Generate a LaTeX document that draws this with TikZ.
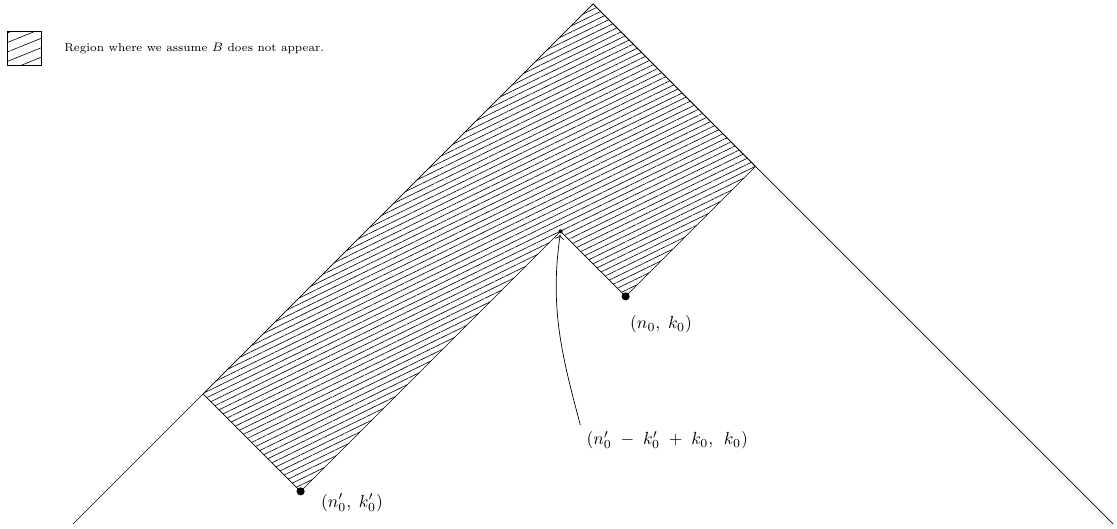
\documentclass[tikz,border=0pt]{standalone}
\usepackage{amsmath,amssymb}
\usepackage{tikz}
\usetikzlibrary{arrows.meta, positioning, patterns.meta}
\tikzset{
  conearea/.style={
    draw, thin, pattern={Lines[angle=26, distance=3.1pt, line width=0.35pt]}
  },
  coneline/.style={thin},
  keybox/.style={
    draw, thin, minimum size=0.68cm, inner sep=0pt,
    pattern={Lines[angle=22, distance=5pt, line width=0.35pt]}
  },
  keylabel/.style={font=\fontsize{6.6pt}{8pt}\selectfont},
  ptlabel/.style={font=\normalsize},
}
\begin{document}
\begin{tikzpicture}[x=0.65cm, y=0.65cm]
  \useasboundingbox (-18.25,-16.15) rectangle (16.12,0.12);

  % Lattice points
  \coordinate (apex) at (0,0);
  \coordinate (rc) at (5,-5);
  \coordinate (nk) at (1,-9);
  \coordinate (notch) at (-1,-7);
  \coordinate (nkp) at (-9,-15);
  \coordinate (lc) at (-12,-12);
  \coordinate (lend) at (-16,-16);
  \coordinate (rend) at (16,-16);

  % Hatched region
  \draw[conearea] (apex) -- (rc) -- (nk) -- (notch) -- (nkp) -- (lc) -- cycle;

  % Light cone
  \draw[coneline] (lend) -- (apex) -- (rend);

  % Marked points
  \fill (nk) circle (2.3pt);
  \fill (nkp) circle (2.3pt);
  \fill (notch) circle (1.2pt);

  % Labels
  \node[ptlabel] (lblnk) at (2.09,-9.85) {$(n_0,\;k_0)$};
  \node[ptlabel] (lblnkp) at (-7.42,-15.35) {$(n_0',\;k_0')$};
  \node[ptlabel] (lblnotch) at (2.28,-13.42) {$(n_0' \;-\; k_0' \;+\; k_0,\;\, k_0)$};
  \draw[->, shorten >=2pt] (lblnotch.north west) to[out=105, in=-98] (notch);

  % Legend
  \node[keybox] (key) at (-17.5,-1.38) {};
  \node[keylabel, right=0.33cm of key] (keytext) {Region where we assume $B$ does not appear.};
\end{tikzpicture}
\end{document}
